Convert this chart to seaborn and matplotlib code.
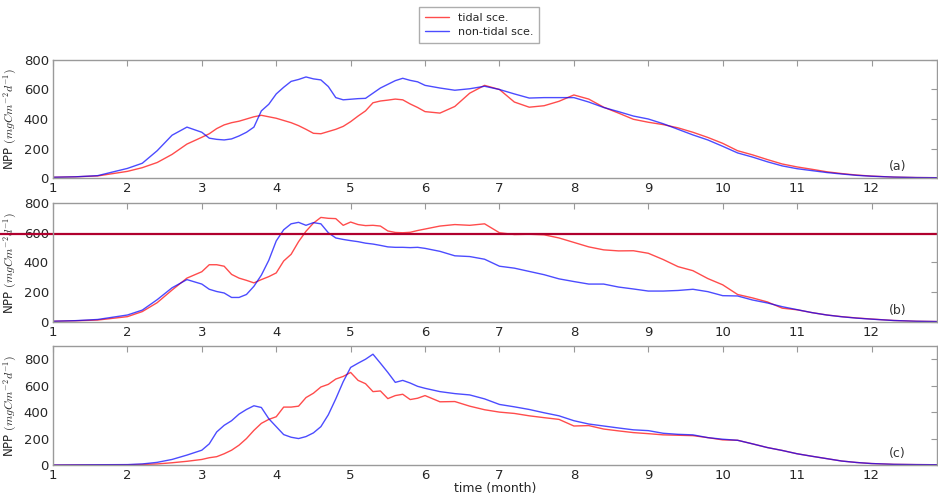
import matplotlib
matplotlib.use('Agg')
import matplotlib.pyplot as plt
import seaborn as sns

# time axis (month), shared by all series
months = [1.0, 1.3, 1.6, 2.0, 2.2, 2.4, 2.6, 2.8, 3.0, 3.1, 3.2, 3.3, 3.4, 3.5, 3.6, 3.7, 3.8, 3.9,
          4.0, 4.1, 4.2, 4.3, 4.4, 4.5, 4.6, 4.7, 4.8, 4.9, 5.0, 5.1, 5.2, 5.3, 5.4, 5.5, 5.6, 5.7,
          5.8, 5.9, 6.0, 6.2, 6.4, 6.6, 6.8, 7.0, 7.2, 7.4, 7.6, 7.8, 8.0, 8.2, 8.4, 8.6, 8.8, 9.0,
          9.2, 9.4, 9.6, 9.8, 10.0, 10.2, 10.4, 10.6, 10.8, 11.0, 11.2, 11.4, 11.6, 11.8, 12.0,
          12.3, 12.6, 12.88]

# panel (a)
tidal_a = [5, 8, 14, 45, 70, 105, 160, 230, 276, 300, 335, 360, 375, 385, 400, 415, 425, 415,
           405, 390, 375, 355, 330, 303, 300, 315, 330, 350, 382, 420, 455, 510, 522, 528, 535, 530,
           502, 478, 450, 440, 485, 575, 628, 600, 515, 480, 490, 520, 563, 535, 480, 440, 398, 378,
           362, 340, 310, 275, 235, 185, 157, 125, 95, 75, 59, 42, 30, 20, 13,
           6, 3, 2]
nontidal_a = [5, 8, 16, 65, 100, 185, 290, 345, 310, 270, 262, 258, 265, 285, 310, 345, 455, 500,
              570, 615, 655, 668, 685, 672, 665, 620, 545, 530, 534, 538, 540, 575, 610, 635, 660, 676,
              662, 652, 628, 610, 595, 605, 622, 600, 570, 542, 545, 545, 545, 515, 478, 450, 420, 400,
              368, 330, 292, 258, 215, 170, 142, 110, 82, 63, 50, 37, 27, 18, 12,
              6, 3, 2]

# panel (b)
tidal_b = [5, 8, 13, 36, 70, 130, 215, 295, 338, 385, 385, 375, 320, 295, 280, 263, 285, 305,
           330, 410, 455, 540, 610, 665, 703, 697, 695, 650, 672, 655, 648, 650, 645, 612, 602, 600,
           603, 615, 625, 645, 655, 650, 660, 600, 588, 590, 586, 565, 535, 505, 485, 478, 479, 462,
           420, 372, 345, 292, 250, 185, 162, 135, 93, 82, 63, 47, 36, 27, 20,
           10, 5, 3]
nontidal_b = [5, 9, 17, 47, 80, 150, 230, 285, 255, 220, 205, 195, 165, 165, 185, 240, 315, 415,
              545, 620, 660, 670, 650, 668, 660, 600, 565, 555, 547, 540, 530, 524, 515, 505, 502, 502,
              500, 502, 495, 475, 445, 440, 422, 375, 362, 340, 318, 290, 272, 255, 255, 235, 222, 208,
              208, 212, 220, 204, 177, 175, 148, 128, 103, 83, 63, 47, 35, 26, 19,
              10, 5, 3]
threshold_b = 593

# panel (c)
tidal_c = [0, 1, 1, 2, 4, 8, 17, 28, 42, 55, 63, 85, 112, 150, 200, 262, 315, 345,
           365, 438, 438, 445, 510, 543, 590, 610, 650, 670, 700, 640, 615, 555, 560, 502, 525, 535,
           495, 505, 525, 478, 480, 445, 418, 400, 390, 372, 358, 345, 295, 298, 272, 258, 245, 237,
           228, 225, 222, 207, 190, 187, 160, 132, 110, 85, 66, 48, 30, 19, 11,
           5, 3, 2]
nontidal_c = [0, 1, 2, 3, 8, 20, 42, 75, 112, 160, 250, 300, 335, 385, 420, 448, 435, 350,
              290, 230, 210, 200, 215, 243, 290, 380, 500, 630, 738, 770, 800, 838, 770, 700, 625, 640,
              620, 595, 580, 555, 540, 530, 500, 458, 440, 420, 395, 372, 335, 310, 295, 280, 266, 260,
              240, 232, 228, 207, 195, 187, 160, 132, 110, 85, 66, 48, 30, 19, 11,
              5, 3, 2]

xticks = list(range(1, 13))
yticks = [0, 200, 400, 600, 800]
panel_labels = ['(a)', '(b)', '(c)']

sns.set_style('white')
plt.rcParams['font.family'] = ['DejaVu Sans']
plt.rcParams['mathtext.fontset'] = 'cm'

fig = plt.figure(figsize=(9.38, 4.95), dpi=100)
left, width = 53 / 938, 884 / 938
ax_a = fig.add_axes([left, 0.6404, width, 0.2384])
ax_b = fig.add_axes([left, 0.3495, width, 0.2404])
ax_c = fig.add_axes([left, 0.0606, width, 0.2404])
axs = [ax_a, ax_b, ax_c]

series = [(tidal_a, nontidal_a), (tidal_b, nontidal_b), (tidal_c, nontidal_c)]
ylims = [(0, 800), (0, 800), (0, 900)]

for ax, (tid, non), lim, lab in zip(axs, series, ylims, panel_labels):
    sns.lineplot(x=months, y=tid, color='r', alpha=0.7, lw=1, label='tidal sce.', ax=ax)
    sns.lineplot(x=months, y=non, color='b', alpha=0.7, lw=1, label='non-tidal sce.', ax=ax)
    ax.set_xlim(1, 12.88)
    ax.set_ylim(*lim)
    ax.set_xticks(xticks)
    ax.set_yticks(yticks)
    ax.tick_params(direction='in', top=True, right=True, length=4, labelsize=9.5,
                   color='#999999', pad=3)
    for sp in ax.spines.values():
        sp.set_color('#9a9a9a')
        sp.set_linewidth(1)
    ax.set_ylabel('NPP $(mgCm^{-2}d^{-1})$', fontsize=8.5, labelpad=3)
    ax.text(0.955, 0.1, lab, transform=ax.transAxes, fontsize=9, va='center', ha='center',
            color='#333333')
    handles, labels = ax.get_legend_handles_labels()
    ax.get_legend().remove()

# horizontal marker in panel (b), running out to the figure edge
ax_b.axhline(threshold_b, xmin=-left / width, xmax=1, clip_on=False, color='#b0002e', lw=1.6)

ax_c.set_xlabel('time (month)', fontsize=9, labelpad=0)

fig.legend(handles, labels, loc='upper center', bbox_to_anchor=(479 / 938, 0.997),
           fontsize=8, fancybox=False, edgecolor='#999999', handlelength=2.2,
           borderpad=0.5, labelspacing=0.4)

fig.savefig('out.png', dpi=100)
